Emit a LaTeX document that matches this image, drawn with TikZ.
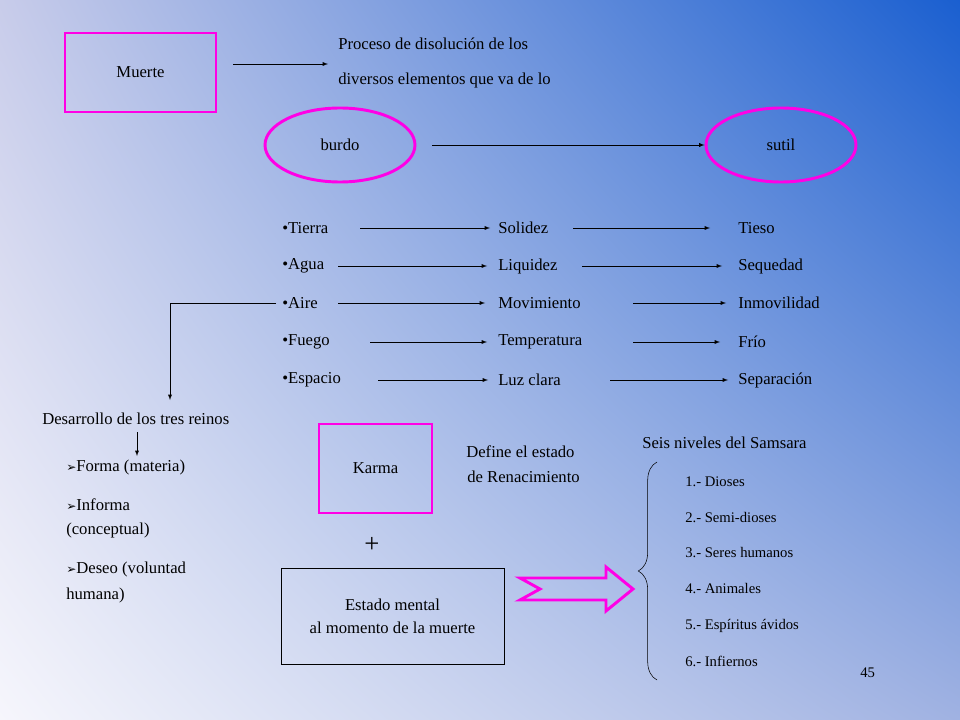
\documentclass[tikz,border=0pt]{standalone}
\usepackage{fontspec}
\setmainfont{Liberation Serif}
\newfontfamily\symfont{DejaVu Sans}
\usetikzlibrary{decorations.pathreplacing,shapes.geometric,shadings}
\definecolor{mag}{RGB}{255,0,230}
\definecolor{bgtl}{RGB}{200,204,234}
\definecolor{bgtr}{RGB}{26,95,208}
\definecolor{bgbl}{RGB}{246,246,252}
\definecolor{bgbr}{RGB}{160,178,226}
\tikzset{
  lbl/.style={anchor=west,inner sep=0pt,font=\fontsize{12.5}{14}\selectfont},
  sml/.style={anchor=west,inner sep=0pt,font=\fontsize{11}{13}\selectfont},
  magbox/.style={draw=mag,line width=2.2pt},
  arr/.style={->,>=latex}
}
\newcommand{\tri}{{\symfont\fontsize{9}{9}\selectfont ➢}}
\begin{document}
\begin{tikzpicture}[x=0.75pt,y=-0.75pt]
\shade[upper left=bgtl,upper right=bgtr,lower left=bgbl,lower right=bgbr]
  (0,0) rectangle (960,720);
\useasboundingbox (0,0) rectangle (960,720);

% top row
\node[magbox,minimum width=151*0.75pt,minimum height=79*0.75pt,font=\fontsize{12.5}{14}\selectfont] (muerte) at (140.5,72.5) {Muerte};
\node[lbl] (proc1) at (338,44) {Proceso de disolución de los};
\node[lbl] (proc2) at (338,80) {diversos elementos que va de lo};
\coordinate (m1) at (233,64);
\draw[arr] (m1) -- (328,64);

\node[draw=mag,line width=2.2pt,ellipse,minimum width=150*0.75pt,minimum height=74*0.75pt,font=\fontsize{12.5}{14}\selectfont] (burdo) at (340,145) {burdo};
\node[draw=mag,line width=2.2pt,ellipse,minimum width=150*0.75pt,minimum height=74*0.75pt,font=\fontsize{12.5}{14}\selectfont] (sutil) at (781,145) {sutil};
\draw[arr] (432,145) -- (sutil.west);

% elements
\foreach \y/\a/\b/\c/\ax/\bx/\cx/\dx in {
  228/Tierra/Solidez/Tieso/360/490/573/710,
  266/Agua/Liquidez/Sequedad/338/487/582/722,
  303/Aire/Movimiento/Inmovilidad/338/485/633/726,
  342/Fuego/Temperatura/Frío/370/487/633/720,
  380/Espacio/Luz clara/Separación/378/488/610/728}{
  \node[lbl] at (282,\y) {•\a};
  \node[lbl] at (498,\y) {\b};
  \node[lbl] at (738,\y) {\c};
  \draw[arr] (\ax,\y) -- (\bx,\y);
  \draw[arr] (\cx,\y) -- (\dx,\y);
}

% tres reinos
\node[lbl] (desa) at (42,419) {Desarrollo de los tres reinos};
\draw[arr] (276,303) -- (170,303) -- (170,400);
\draw[arr] (137,432) -- (137,456);
\node[lbl] (forma) at (66,467) {\tri Forma (materia)};
\node[lbl] (info) at (66,505) {\tri Informa};
\node[lbl] at (66,530) {(conceptual)};
\node[lbl] (deseo) at (66,569) {\tri Deseo (voluntad};
\node[lbl] at (66,595) {humana)};

% karma
\node[magbox,minimum width=113*0.75pt,minimum height=89*0.75pt,font=\fontsize{12.5}{14}\selectfont] (karma) at (375.5,468.5) {Karma};
\node[lbl] (def1) at (466,452) {Define el estado};
\node[lbl] (def2) at (467,477) {de Renacimiento};
\node[font=\fontsize{20}{20}\selectfont,inner sep=0pt] (plus) at (372,545) {+};
\node[draw,thin,minimum width=223*0.75pt,minimum height=96*0.75pt,align=center,font=\fontsize{12.5}{17}\selectfont] (estado) at (392.5,616) {Estado mental\\ al momento de la muerte};

\draw[draw=mag,line width=2.2pt] (520,578) -- (606,578) -- (606,567) -- (633,589) -- (606,611) -- (606,600) -- (520,600) -- (540,589) -- cycle;

% samsara
\node[lbl] (seis) at (642,443) {Seis niveles del Samsara};
\draw[decorate,decoration={brace,amplitude=14pt,aspect=0.5}] (657,680) -- (657,462);
\foreach \y/\t in {482/1.- Dioses,518/2.- Semi-dioses,553/3.- Seres humanos,589/4.- Animales,626/5.- Espíritus ávidos,661/6.- Infiernos}
  \node[sml] at (685,\y) {\t};
\node[sml] (num) at (860,673) {45};
\end{tikzpicture}
\end{document}
